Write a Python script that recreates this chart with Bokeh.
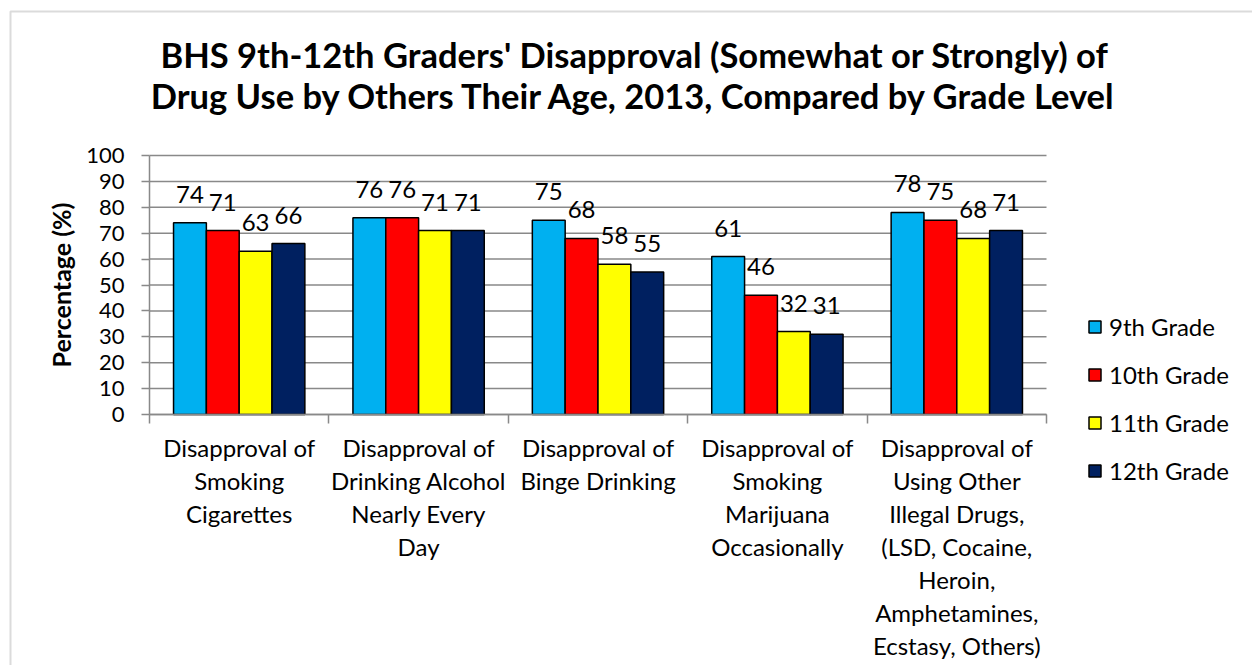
import numpy as np
from bokeh.plotting import figure
from bokeh.models import (ColumnDataSource, LabelSet, Legend, LegendItem,
                          FixedTicker, Range1d, LinearAxis, BoxAnnotation)
from bokeh.embed import file_html
from bokeh.resources import INLINE
from bokeh.core.properties import value

# ---------------- data ----------------
categories = [
    "Disapproval of\nSmoking\nCigarettes",
    "Disapproval of\nDrinking Alcohol\nNearly Every\nDay",
    "Disapproval of\nBinge Drinking",
    "Disapproval of\nSmoking\nMarijuana\nOccasionally",
    "Disapproval of\nUsing Other\nIllegal Drugs,\n(LSD, Cocaine,\nHeroin,\nAmphetamines,\nEcstasy, Others)",
]
grades = ["9th Grade", "10th Grade", "11th Grade", "12th Grade"]
grade9 = [74, 76, 75, 61, 78]
grade10 = [71, 76, 68, 46, 75]
grade11 = [63, 71, 58, 32, 68]
grade12 = [66, 71, 55, 31, 71]
series = [grade9, grade10, grade11, grade12]
colors = ["#00B0F0", "#FF0000", "#FFFF00", "#002060"]
y_ticks = list(range(0, 101, 10))
title_lines = ["BHS 9th-12th Graders' Disapproval (Somewhat or Strongly) of",
               "Drug Use by Others Their Age, 2013, Compared by Grade Level"]
y_label = "Percentage (%)"

FONT = "Lato"
GRAY = "#898989"
W, H = 1252, 665

# layout geometry (pixels) -> data coordinates
FR_L, FR_R, FR_T, FR_B = 149, 1046, 155, 414
n = len(categories)
PX = (FR_R - FR_L) / n
PY = (FR_B - FR_T) / 100.0
def dx(px):
    return -0.5 + (px - FR_L) / PX
def dy(py):
    return (FR_B - py) / PY

p = figure(width=W, height=H, x_range=Range1d(dx(0), dx(W)), y_range=Range1d(dy(H), dy(0)),
           output_backend="svg", toolbar_location=None,
           x_axis_type=None, y_axis_type=None,
           min_border_left=0, min_border_right=0, min_border_top=0, min_border_bottom=0)
p.outline_line_color = None
p.background_fill_color = "white"
p.border_fill_color = "white"
p.grid.visible = False

# chart border (left and top visible)
p.add_layout(BoxAnnotation(left=dx(10), top=dy(11), right=dx(W + 20), bottom=dy(H + 20),
                           fill_alpha=0, line_color=GRAY, line_width=2, level="underlay"))

# horizontal gridlines
p.segment(x0=[-0.5] * len(y_ticks), x1=[n - 0.5] * len(y_ticks), y0=y_ticks, y1=y_ticks,
          line_color=GRAY, line_width=1.5)

# y axis
yax = LinearAxis(fixed_location=-0.5, bounds=(0, 100), ticker=FixedTicker(ticks=y_ticks))
yax.axis_line_color = GRAY
yax.axis_line_width = 1.5
yax.major_tick_line_color = GRAY
yax.major_tick_line_width = 1.5
yax.major_tick_out = 8
yax.major_tick_in = 0
yax.minor_tick_line_color = None
yax.major_label_standoff = 17
yax.major_label_text_font = FONT
yax.major_label_text_font_size = "22px"
yax.major_label_text_color = "black"
yax.axis_label = y_label
yax.axis_label_text_font = FONT
yax.axis_label_text_font_style = "bold"
yax.axis_label_text_font_size = "25px"
yax.axis_label_text_color = "black"
yax.axis_label_standoff = 7
p.add_layout(yax, "left")

# x axis: only boundary ticks
centers = list(range(n))
xax = LinearAxis(fixed_location=0, bounds=(-0.5, n - 0.5),
                 ticker=FixedTicker(ticks=[], minor_ticks=[c - 0.5 for c in range(n + 1)]))
xax.axis_line_color = GRAY
xax.axis_line_width = 1.5
xax.minor_tick_line_color = GRAY
xax.minor_tick_line_width = 1.5
xax.minor_tick_out = 9
xax.minor_tick_in = 0
xax.major_tick_line_color = None
p.add_layout(xax, "below")

# bars
offsets = [-0.2745, -0.0915, 0.0915, 0.2745]
bar_w = 0.183
items = []
for g, vals, col, off in zip(grades, series, colors, offsets):
    src = ColumnDataSource(dict(x=[c + off for c in centers], top=vals,
                                txt=[str(v) for v in vals]))
    r = p.vbar(x="x", top="top", width=bar_w, source=src, fill_color=col,
               line_color="black", line_width=1.5)
    items.append(LegendItem(label=g, renderers=[r]))
    p.add_layout(LabelSet(x="x", y="top", text="txt", source=src, y_offset=20,
                          text_align="center", text_baseline="alphabetic",
                          text_font=value(FONT), text_font_size="24px",
                          text_color="black"))

# category labels: one centred label per line, baselines 33 px apart
cx, cy, ct = [], [], []
for c, cat in zip(centers, categories):
    for j, line in enumerate(cat.split("\n")):
        cx.append(c)
        cy.append(dy(456 + 33 * j))
        ct.append(line)
p.add_layout(LabelSet(x="x", y="y", text="txt", source=ColumnDataSource(dict(x=cx, y=cy, txt=ct)),
                      text_align="center", text_baseline="alphabetic",
                      text_font=value(FONT), text_font_size="24px", text_color="black"))

# title
tsrc = ColumnDataSource(dict(x=[dx(634)] * 2, y=[dy(67), dy(108)], txt=title_lines))
p.add_layout(LabelSet(x="x", y="y", text="txt", source=tsrc, text_align="center",
                      text_baseline="alphabetic", text_font=value(FONT),
                      text_font_style="bold", text_font_size="34.5px", text_color="black"))

legend = Legend(items=items, location=(1087, H - 485), orientation="vertical",
                padding=0, margin=0, spacing=19, glyph_width=15, glyph_height=15,
                label_height=29, label_standoff=7,
                label_text_font=FONT, label_text_font_size="24px",
                label_text_color="black",
                border_line_color=None, background_fill_alpha=0)
p.add_layout(legend)

open("out.html", "w").write(file_html(p, INLINE))
